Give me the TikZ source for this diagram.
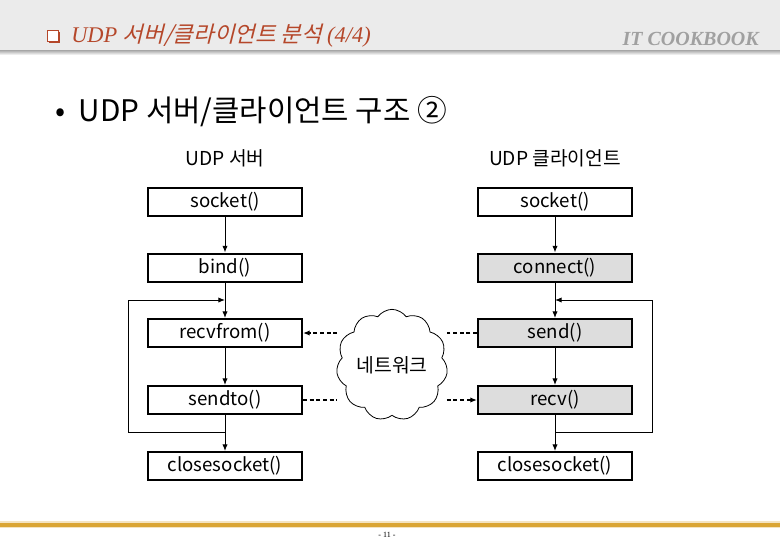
\documentclass[tikz,border=0pt]{standalone}
\usepackage{fontspec}
\setmainfont{Noto Sans CJK KR}
\newfontfamily\hdkr[FakeSlant=0.25]{Noto Sans CJK KR}
\newfontfamily\hdlat{Liberation Serif}
\usetikzlibrary{shapes.symbols,arrows.meta}
\definecolor{hdband}{RGB}{235,235,235}
\definecolor{hdtitle}{RGB}{181,71,42}
\definecolor{cbgray}{RGB}{160,160,160}
\definecolor{boxfill}{RGB}{221,221,221}
\definecolor{footline}{RGB}{218,165,53}

\begin{document}
\begin{tikzpicture}[x=0.75pt,y=0.75pt,yscale=-1,xscale=1,
    fnbox/.style={draw,line width=1.5pt,minimum width=115.5pt,minimum height=21pt,inner sep=0pt,font=\fontsize{14}{16}\selectfont},
    shaded box/.style={fnbox,fill=boxfill},
    flow/.style={line width=0.75pt,-{Latex[length=5pt,width=4pt]}},
    netline/.style={line width=1pt,dash pattern=on 3pt off 2pt},
    colhead/.style={inner sep=0.75pt,font=\fontsize{14.4}{16}\selectfont}]
        \useasboundingbox (0,0) rectangle (780,540);

        %Header band
        \fill [hdband] (0,0) rectangle (780,50);
        \shade [top color=black!35,bottom color=white] (0,50) rectangle (780,55);
        %Shape: title square
        \fill [hdtitle] (49,32) rectangle (60,43);
        \draw [hdtitle,fill=white,line width=0.6pt] (47,30) rectangle (58,41);
        % Text Node
        \draw (70,36) node [anchor=west][inner sep=0.75pt,text=hdtitle] (title) {\fontsize{16.8}{18}\selectfont\hdlat\itshape UDP \hdkr 서버/클라이언트 분석 \hdlat\itshape (4/4)};
        % Text Node
        \draw (760,39) node [anchor=east][inner sep=0.75pt,text=cbgray] (brand) {\fontsize{15}{16}\selectfont\hdlat\bfseries\itshape IT COOKBOOK};

        % Text Node
        \draw (54,112) node [anchor=west][inner sep=0.75pt] (heading) {\fontsize{22.3}{26}\selectfont •\hspace{10pt}UDP 서버/클라이언트 구조 ②};

        % Text Node
        \draw (225,158) node [colhead] (srvhead) {UDP 서버};
        % Text Node
        \draw (555,158) node [colhead] (clihead) {UDP 클라이언트};

        %Server side
        \node [fnbox] (ssock) at (225,202) {socket()};
        \node [fnbox] (sbind) at (225,267.5) {bind()};
        \node [fnbox] (srecv) at (225,333) {recvfrom()};
        \node [fnbox] (ssend) at (225,400) {sendto()};
        \node [fnbox] (sclose) at (225,466) {closesocket()};

        %Client side
        \node [fnbox] (csock) at (555,202) {socket()};
        \node [shaded box] (cconn) at (555,267.5) {connect()};
        \node [shaded box] (csend) at (555,333) {send()};
        \node [shaded box] (crecv) at (555,400) {recv()};
        \node [fnbox] (cclose) at (555,466) {closesocket()};

        %Network cloud
        \node [cloud,draw,line width=0.6pt,cloud puffs=11,cloud puff arc=110,aspect=1,minimum width=80pt,minimum height=80pt,inner sep=0pt,font=\fontsize{14.5}{16}\selectfont] (net) at (392,365) {네트워크};

        %Straight Lines
        \draw [flow] (ssock) -- (sbind);
        \draw [flow] (sbind) -- (srecv);
        \draw [flow] (srecv) -- (ssend);
        \draw [flow] (ssend) -- (sclose);
        \draw [flow] (csock) -- (cconn);
        \draw [flow] (cconn) -- (csend);
        \draw [flow] (csend) -- (crecv);
        \draw [flow] (crecv) -- (cclose);

        %Loops
        \coordinate (sjoin) at (225,432);
        \coordinate (stop) at (225,300);
        \coordinate (cjoin) at (555,432);
        \coordinate (ctop) at (555,300);
        \draw [flow] (sjoin) -- (128,432) -- (128,300) -- (stop);
        \draw [flow] (cjoin) -- (652,432) -- (652,300) -- (ctop);

        %Dashed Lines
        \draw [netline,-{Latex[length=5pt,width=4pt]}] (net.west |- srecv) -- (srecv.east);
        \draw [netline] (csend.west) -- (net.east |- csend);
        \draw [netline] (ssend.east) -- (net.west |- ssend);
        \draw [netline,-{Latex[length=5pt,width=4pt]}] (net.east |- crecv) -- (crecv.west);

        %Footer
        \fill [footline!30] (0,521) rectangle (780,528);
        \fill [footline] (0,522.5) rectangle (780,526.5);
        % Text Node
        \draw (387,535) node [inner sep=0.75pt] (page) {\fontsize{6}{7}\selectfont\hdlat - 11 -};

\end{tikzpicture}
\end{document}
